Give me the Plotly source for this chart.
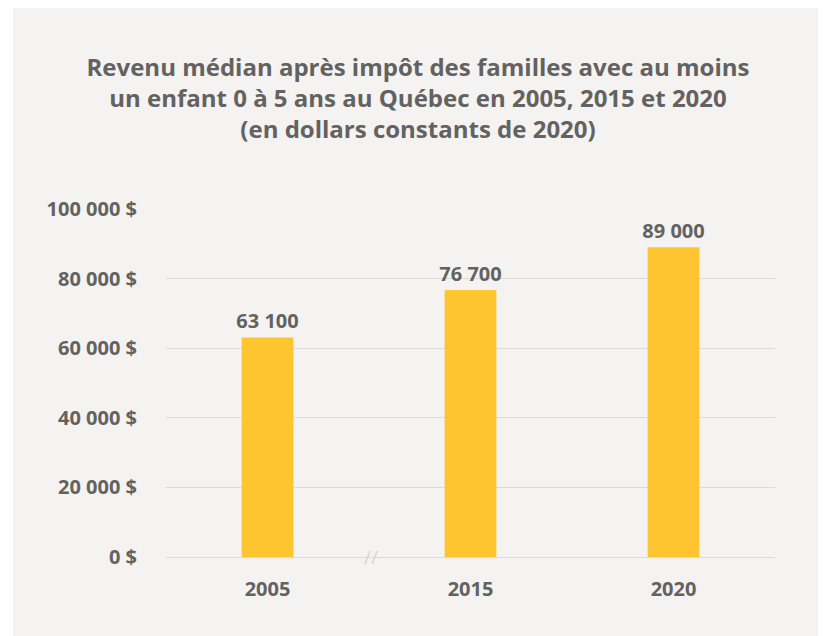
import plotly.graph_objects as go

years = ["2005", "2015", "2020"]
revenu = [63100, 76700, 89000]
labels = ["63 100", "76 700", "89 000"]
y_ticks = [0, 20000, 40000, 60000, 80000, 100000]
y_ticktext = ["0 $", "20 000 $", "40 000 $", "60 000 $", "80 000 $", "100 000 $"]

TXT = "#636261"
BAR = "#FFC530"
GRID = "#DEDBD6"
PANEL = "#F4F3F1"
FONT = "Open Sans"

# page body adds an 8px offset, so figure coords = screen coords - 8
OFF = 8
W, H = 826 - OFF, 636 - OFF
L, T = 166 - OFF, 209 - OFF
R = W - (775 - OFF)
B = H - (557 - OFF)
pw, ph = W - L - R, H - T - B

fig = go.Figure(go.Bar(
    x=years, y=revenu, text=labels, textposition="outside",
    constraintext="none",
    textfont=dict(family=FONT, size=20, color=TXT, weight="bold"),
    marker=dict(color=BAR, line=dict(width=0)), width=0.255,
    cliponaxis=False, hoverinfo="skip",
))

fig.update_layout(
    width=W, height=H,
    margin=dict(l=L, r=R, t=T, b=B),
    paper_bgcolor="white", plot_bgcolor="rgba(0,0,0,0)",
    showlegend=False,
    title=dict(
        text="Revenu médian après impôt des familles avec au moins<br>un enfant 0 à 5 ans au Québec en 2005, 2015 et 2020<br>(en dollars constants de 2020)",
        x=(418 - OFF) / W, xanchor="center", xref="container",
        y=1 - (76 - OFF) / H, yanchor="top", yref="container",
        font=dict(family=FONT, size=24, color=TXT, weight="bold"),
    ),
    xaxis=dict(showgrid=False, showline=True, linecolor=GRID, linewidth=1,
               ticks="", ticklabelstandoff=14,
               tickfont=dict(family=FONT, size=20, color=TXT, weight="bold")),
    yaxis=dict(range=[0, 100000], tickvals=y_ticks, ticktext=y_ticktext,
               showgrid=True, gridcolor=GRID, gridwidth=1, zeroline=False,
               showline=False, ticks="", ticklabelstandoff=28,
               tickfont=dict(family=FONT, size=20, color=TXT, weight="bold")),
    shapes=[dict(type="rect", xref="paper", yref="paper", layer="below",
                 x0=(13 - 166) / pw, x1=(826 - 166) / pw,
                 y0=(557 - 636) / ph, y1=(557 - 8) / ph,
                 fillcolor=PANEL, line=dict(width=0))],
    annotations=[dict(text="//", xref="paper", yref="paper", x=(371 - 166) / pw, y=0,
                      showarrow=False, font=dict(family=FONT, size=19, color="#D9D6D0"),
                      xanchor="center", yanchor="middle")],
)

fig.write_html("out.html")
